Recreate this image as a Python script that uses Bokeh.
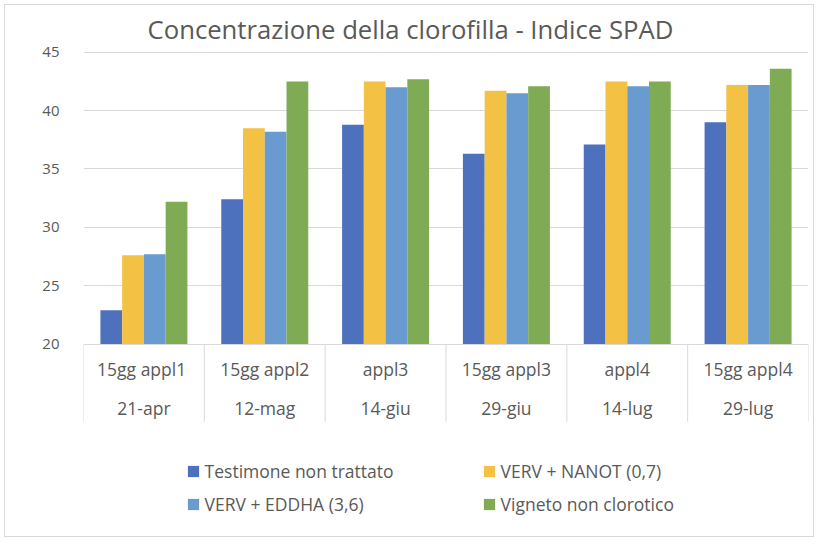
from bokeh.plotting import figure
from bokeh.models import FactorRange, Range1d, FixedTicker, Legend, LegendItem, ColumnDataSource
from bokeh.transform import dodge
from bokeh.core.properties import value
from bokeh.embed import file_html
from bokeh.resources import INLINE

# ---------------- data ----------------
periods = ["15gg  appl1", "15gg appl2", "appl3", "15gg appl3", "appl4", "15gg appl4"]
dates = ["21-apr", "12-mag", "14-giu", "29-giu", "14-lug", "29-lug"]
series_names = ["Testimone non trattato", "VERV + NANOT (0,7)",
                "VERV + EDDHA (3,6)", "Vigneto non clorotico"]
testimone = [22.9, 32.4, 38.8, 36.3, 37.1, 39.0]
nanot = [27.6, 38.5, 42.5, 41.7, 42.5, 42.2]
eddha = [27.7, 38.2, 42.0, 41.5, 42.1, 42.2]
vigneto = [32.2, 42.5, 42.7, 42.1, 42.5, 43.6]
y_ticks = [20, 25, 30, 35, 40, 45]
title_text = "Concentrazione della clorofilla - Indice SPAD"

colors = ["#4E71BE", "#F3C143", "#6A9BD0", "#7FAB55"]
TEXT = "#595959"
GRID = "#D9D9D9"
FONT = "Open Sans"

# ---------------- layout constants (pixels) ----------------
W, H = 810, 533            # outer size incl. 1px border
CW, CH = W - 2, H - 2      # canvas size
MB_L, MB_R, MB_T, MB_B = 78, 7, 41, 0
PX = 11.62                 # pixels per SPAD unit
BASE_FROM_TOP = 296.3      # pixel distance from frame top to value 20
frame_h = CH - MB_T - MB_B
y_base = y_ticks[0]
y_end = y_base + BASE_FROM_TOP / PX
y_start = y_base - (frame_h - BASE_FROM_TOP) / PX

def below(px):
    return y_base - px / PX

src = ColumnDataSource(dict(periods=periods, dates=dates, testimone=testimone,
                            nanot=nanot, eddha=eddha, vigneto=vigneto))

p = figure(width=W, height=H, output_backend="svg", toolbar_location=None,
           x_range=FactorRange(*periods, range_padding=0, factor_padding=0),
           y_range=Range1d(y_start, y_end),
           min_border_left=MB_L, min_border_right=MB_R,
           min_border_top=MB_T, min_border_bottom=MB_B,
           x_axis_location=None)
p.styles = {"border": "1px solid #D9D9D9", "margin": "4px"}
p.outline_line_color = None
p.background_fill_color = "white"
p.border_fill_color = "white"

# title
p.title.text = title_text
p.title.text_font = FONT
p.title.text_font_size = "25.7px"
p.title.text_font_style = "normal"
p.title.text_color = TEXT
p.title.align = "left"
p.title.offset = 64
p.title.standoff = 0

# y axis
p.yaxis.ticker = FixedTicker(ticks=y_ticks)
p.yaxis.axis_line_color = None
p.yaxis.major_tick_line_color = None
p.yaxis.minor_tick_line_color = None
p.yaxis.major_label_text_font = FONT
p.yaxis.major_label_text_font_size = "15px"
p.yaxis.major_label_text_color = TEXT
p.yaxis.major_label_standoff = 18
p.ygrid.ticker = FixedTicker(ticks=y_ticks)
p.ygrid.grid_line_color = GRID
p.ygrid.grid_line_width = 1
p.xgrid.grid_line_color = None

# bars
offsets = [-0.27, -0.09, 0.09, 0.27]
fields = ["testimone", "nanot", "eddha", "vigneto"]
renderers = []
for f, off, c in zip(fields, offsets, colors):
    r = p.vbar(x=dodge("periods", off, range=p.x_range), top=f, bottom=y_base,
               width=0.18, source=src, fill_color=c, line_color=None)
    renderers.append(r)

# category separators (numeric synthetic coordinates on the factor range)
sep_x = list(range(len(periods) + 1))
p.segment(x0=sep_x, x1=sep_x, y0=[y_base] * len(sep_x), y1=[below(77.5)] * len(sep_x),
          line_color=GRID, line_width=1)

# category labels (two rows)
p.text(x="periods", y=below(25.2), text="periods", source=src,
       text_font=value(FONT), text_font_size="17.5px", text_color=TEXT,
       text_align="center", text_baseline="middle")
p.text(x="periods", y=below(64.2), text="dates", source=src,
       text_font=value(FONT), text_font_size="17.5px", text_color=TEXT,
       text_align="center", text_baseline="middle")

# legends (two columns)
def make_legend(idx, loc):
    lg = Legend(items=[LegendItem(label=series_names[i], renderers=[renderers[i]]) for i in idx],
                location=loc, orientation="vertical")
    lg.glyph_width = 14
    lg.glyph_height = 14
    lg.label_height = 14
    lg.spacing = 9
    lg.padding = 0
    lg.margin = 0
    lg.label_standoff = 5
    lg.label_text_font = FONT
    lg.label_text_font_size = "17.5px"
    lg.label_text_color = TEXT
    lg.border_line_color = None
    lg.background_fill_alpha = 0
    return lg

p.add_layout(make_legend([0, 2], (102.6, 22)))
p.add_layout(make_legend([1, 3], (398.6, 22)))

open("out.html", "w").write(file_html(p, INLINE))
